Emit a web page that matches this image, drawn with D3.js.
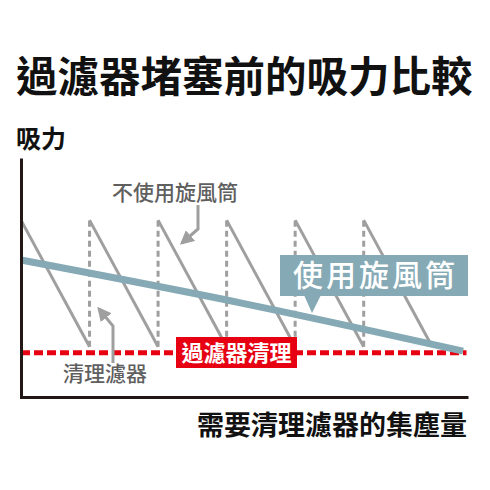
<!DOCTYPE html>
<html>
<head>
<meta charset="utf-8">
<script src="https://cdn.jsdelivr.net/npm/d3@7"></script>
<style>
  html, body { margin: 0; padding: 0; background: #fff; }
  text { font-family: "Noto Sans CJK TC", "Noto Sans CJK SC", sans-serif; }
</style>
</head>
<body>
<svg id="chart"></svg>
<script>
// 資料：集塵量(以清理週期計) 與 吸力(0-100)
const cycles = [0, 1, 2, 3, 4, 5];          // 每次清理濾器前的週期起點
const sawTop = 74, sawBottom = 21;          // 不使用旋風筒：吸力由高降到低
const cleanLevel = 18.5;                    // 過濾器清理的吸力門檻
const cycloneX = [0, 3.2, 6.45];            // 使用旋風筒
const cycloneY = [57.3, 39.4, 19.2];
const labels = {
  title: "過濾器堵塞前的吸力比較",
  yLabel: "吸力",
  xLabel: "需要清理濾器的集塵量",
  noCyclone: "不使用旋風筒",
  cyclone: "使用旋風筒",
  clean: "過濾器清理",
  cleanFilter: "清理濾器"
};

const W = 490, H = 490;
const svg = d3.select("#chart").attr("width", W).attr("height", H);

// 比例尺
const x = d3.scaleLinear().domain([0, 6.5]).range([21, 466.5]);
const y = d3.scaleLinear().domain([0, 100]).range([397, 158]);

const gray = "#9f9f9f", blue = "#86aab5", red = "#e60012";

// 標題
svg.append("text").attr("x", 16).attr("y", 92)
  .attr("font-size", 41.5).attr("font-weight", 700).attr("fill", "#111")
  .text(labels.title);
svg.append("text").attr("x", 16).attr("y", 148)
  .attr("font-size", 25).attr("font-weight", 700).attr("fill", "#111")
  .text(labels.yLabel);
svg.append("text").attr("x", 467).attr("y", 435).attr("text-anchor", "end")
  .attr("font-size", 27).attr("font-weight", 700).attr("fill", "#111")
  .text(labels.xLabel);

// 不使用旋風筒：斜線
svg.append("g").selectAll("line").data(cycles).join("line")
  .attr("x1", d => x(d)).attr("y1", d => y(sawTop))
  .attr("x2", d => x(d + 1)).attr("y2", d => y(sawBottom))
  .attr("stroke", gray).attr("stroke-width", 3);

// 清理後回升（虛線）
svg.append("g").selectAll("line").data(cycles.slice(1)).join("line")
  .attr("x1", d => x(d)).attr("y1", y(sawBottom))
  .attr("x2", d => x(d)).attr("y2", y(sawTop))
  .attr("stroke", gray).attr("stroke-width", 3)
  .attr("stroke-dasharray", "6,4");

// 過濾器清理門檻
svg.append("line")
  .attr("x1", x(0)).attr("x2", x(6.5))
  .attr("y1", y(cleanLevel)).attr("y2", y(cleanLevel))
  .attr("stroke", red).attr("stroke-width", 5)
  .attr("stroke-dasharray", "9,4");

// 使用旋風筒
const line = d3.line().x(d => x(d[0])).y(d => y(d[1])).curve(d3.curveMonotoneX);
svg.append("path")
  .datum(cycloneX.map((v, i) => [v, cycloneY[i]]))
  .attr("d", line)
  .attr("fill", "none").attr("stroke", blue).attr("stroke-width", 7);

// 座標軸
svg.append("g").attr("transform", "translate(21,0)")
  .call(d3.axisLeft(y).tickValues([]).tickSizeOuter(0))
  .select(".domain").attr("stroke", "#231815").attr("stroke-width", 3);
svg.append("g").attr("transform", `translate(0,${y(0)})`)
  .call(d3.axisBottom(x).tickValues([]).tickSizeOuter(0))
  .select(".domain").attr("stroke", "#231815").attr("stroke-width", 3)
  .attr("stroke-linecap", "square");

// 標籤：過濾器清理
svg.append("rect").attr("x", 176).attr("y", 337).attr("width", 121).attr("height", 31)
  .attr("fill", red);
svg.append("text").attr("x", 236.5).attr("y", 361).attr("text-anchor", "middle")
  .attr("font-size", 22).attr("font-weight", 700).attr("fill", "#fff")
  .text(labels.clean);

// 標籤：使用旋風筒
svg.append("rect").attr("x", 280).attr("y", 255).attr("width", 188).attr("height", 41)
  .attr("fill", blue);
svg.append("path").attr("d", "M304,295 L321,295 L312,313 Z").attr("fill", blue);
svg.append("text").attr("x", 293).attr("y", 286)
  .attr("font-size", 30).attr("font-weight", 500).attr("fill", "#fff")
  .attr("letter-spacing", 3)
  .text(labels.cyclone);

// 註解箭頭
const defs = svg.append("defs");
defs.append("marker").attr("id", "arrow")
  .attr("viewBox", "0 0 10 10").attr("refX", 8).attr("refY", 5)
  .attr("markerWidth", 14).attr("markerHeight", 14)
  .attr("markerUnits", "userSpaceOnUse").attr("orient", "auto")
  .append("path").attr("d", "M0,0 L10,5 L0,10 Z").attr("fill", gray);

svg.append("text").attr("x", 112).attr("y", 200)
  .attr("font-size", 21).attr("font-weight", 500).attr("fill", "#5f5f5f")
  .text(labels.noCyclone);
svg.append("path").attr("d", "M198,205 L198,229 L182,243")
  .attr("fill", "none").attr("stroke", gray).attr("stroke-width", 3)
  .attr("marker-end", "url(#arrow)");

svg.append("text").attr("x", 63).attr("y", 381)
  .attr("font-size", 21).attr("font-weight", 500).attr("fill", "#5f5f5f")
  .text(labels.cleanFilter);
svg.append("path").attr("d", "M113,363 L113,326 L99,309")
  .attr("fill", "none").attr("stroke", gray).attr("stroke-width", 3)
  .attr("marker-end", "url(#arrow)");
</script>
</body>
</html>
